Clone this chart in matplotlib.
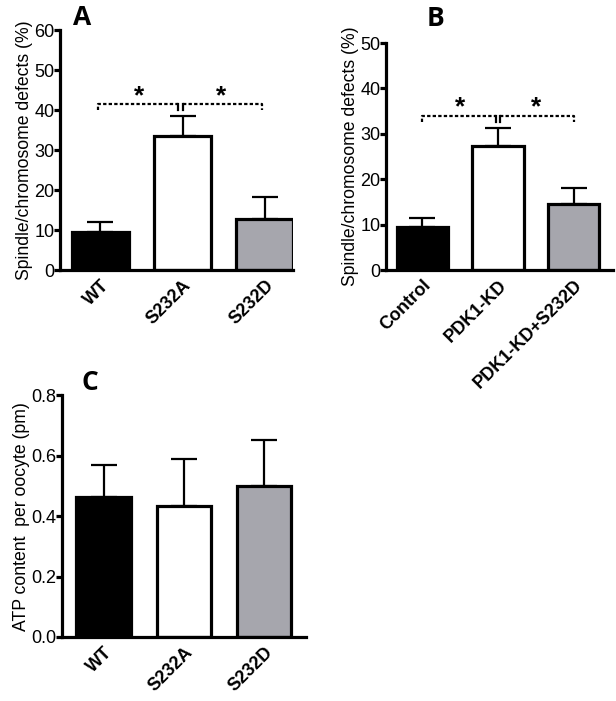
import matplotlib
matplotlib.use("Agg")
import matplotlib.pyplot as plt

# Data
cats_a = ["WT", "S232A", "S232D"]
vals_a = [9.5, 33.6, 12.8]
errs_a = [2.5, 4.8, 5.5]

cats_b = ["Control", "PDK1-KD", "PDK1-KD+S232D"]
vals_b = [9.5, 27.3, 14.5]
errs_b = [2.0, 4.0, 3.5]

cats_c = ["WT", "S232A", "S232D"]
vals_c = [0.463, 0.432, 0.500]
errs_c = [0.107, 0.158, 0.150]

colors = ["black", "white", "#a6a6ad"]

plt.rcParams['font.family'] = ['Liberation Sans', 'DejaVu Sans']

fig = plt.figure(figsize=(6.16, 7.01), dpi=100)

LW = 2.3

def style(ax, ylim, yticks, fmt, xlim):
    for s in ["top", "right"]:
        ax.spines[s].set_visible(False)
    for s in ["left", "bottom"]:
        ax.spines[s].set_linewidth(LW)
    ax.set_ylim(*ylim)
    ax.set_xlim(*xlim)
    ax.set_yticks(yticks)
    ax.set_yticklabels([fmt(t) for t in yticks], fontsize=13)
    ax.tick_params(axis='y', length=4, width=LW, pad=0)
    ax.tick_params(axis='x', length=0, pad=5)

def bars(ax, cats, vals, errs, width):
    x = list(range(len(cats)))
    ax.bar(x, vals, width=width, color=colors, edgecolor="black", linewidth=LW, zorder=2)
    ax.errorbar(x, vals, yerr=[[0]*len(vals), errs], fmt="none", ecolor="black",
                elinewidth=1.6, capsize=9.5, capthick=1.6, zorder=1)
    ax.set_xticks(x)
    ax.set_xticklabels(cats, rotation=45, ha="right", rotation_mode="anchor",
                       fontsize=13, fontweight="bold")

def bracket(ax, x0, xm, x1, ylow, yhigh, star_y):
    kw = dict(color="black", lw=1.6, linestyle=(0, (1.5, 1)), zorder=3)
    ax.plot([x0, x0, xm - 0.03], [ylow, yhigh, yhigh], **kw)
    ax.plot([xm + 0.03, x1, x1], [yhigh, yhigh, ylow], **kw)
    ax.plot([xm - 0.03, xm - 0.03], [yhigh, ylow], color="black", lw=1.6, zorder=3)
    ax.plot([xm + 0.03, xm + 0.03], [yhigh, ylow], color="black", lw=1.6, zorder=3)
    ax.text((x0 + xm) / 2, star_y, "*", ha="center", va="center", fontsize=19, fontweight="bold")
    ax.text((xm + x1) / 2, star_y, "*", ha="center", va="center", fontsize=19, fontweight="bold")

# Panel A
axA = fig.add_axes([0.0974, 0.6148, 0.378, 0.3424])
bars(axA, cats_a, vals_a, errs_a, 0.69)
style(axA, (0, 60), [0, 10, 20, 30, 40, 50, 60], lambda t: f"{t:d}", (-0.49, 2.34))
axA.set_ylabel("Spindle/chromosome defects (%)", fontsize=12.7, labelpad=1)
bracket(axA, -0.03, 0.97, 1.97, 40.0, 41.6, 43.5)
fig.text(0.118, 0.975, "A", fontsize=19, fontweight="bold", family="Open Sans", va="center")

# Panel B
axB = fig.add_axes([0.6266, 0.6148, 0.3685, 0.3238])
bars(axB, cats_b, vals_b, errs_b, 0.675)
style(axB, (0, 50), [0, 10, 20, 30, 40, 50], lambda t: f"{t:d}", (-0.48, 2.52))
axB.set_ylabel("Spindle/chromosome defects (%)", fontsize=12.7, labelpad=1)
bracket(axB, 0.0, 1.0, 2.0, 32.6, 33.9, 35.8)
fig.text(0.692, 0.973, "B", fontsize=19, fontweight="bold", family="Open Sans", va="center")

# Panel C
axC = fig.add_axes([0.1006, 0.0913, 0.396, 0.345])
bars(axC, cats_c, vals_c, errs_c, 0.68)
style(axC, (0, 0.8), [0.0, 0.2, 0.4, 0.6, 0.8], lambda t: f"{t:.1f}", (-0.52, 2.52))
axC.set_ylabel("ATP content  per oocyte (pm)", fontsize=12.7, labelpad=1)
fig.text(0.132, 0.454, "C", fontsize=19, fontweight="bold", family="Open Sans", va="center")

fig.savefig("out.png", dpi=100)
